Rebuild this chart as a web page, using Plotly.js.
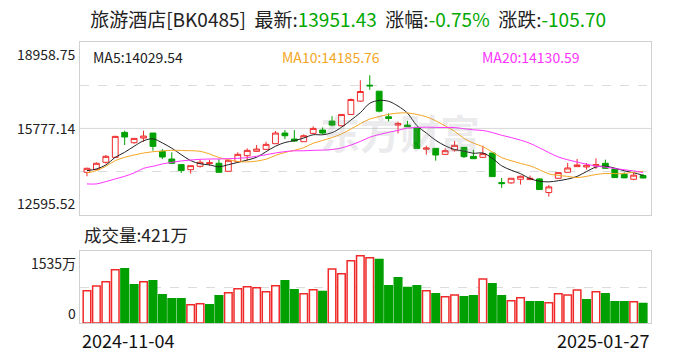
<!DOCTYPE html>
<html><head><meta charset="utf-8">
<script src="https://cdn.plot.ly/plotly-3.0.1.min.js"></script>
<style>html,body{margin:0;padding:0;background:#fff;}#chart{width:688px;height:360px;}</style>
</head><body><div id="chart"></div>
<script>
const dates = ["2024-11-04","2024-11-05","2024-11-06","2024-11-07","2024-11-08","2024-11-11","2024-11-12","2024-11-13","2024-11-14","2024-11-15",
"2024-11-18","2024-11-19","2024-11-20","2024-11-21","2024-11-22","2024-11-25","2024-11-26","2024-11-27","2024-11-28","2024-11-29",
"2024-12-02","2024-12-03","2024-12-04","2024-12-05","2024-12-06","2024-12-09","2024-12-10","2024-12-11","2024-12-12","2024-12-13",
"2024-12-16","2024-12-17","2024-12-18","2024-12-19","2024-12-20","2024-12-23","2024-12-24","2024-12-25","2024-12-26","2024-12-27",
"2024-12-30","2024-12-31","2025-01-02","2025-01-03","2025-01-06","2025-01-07","2025-01-08","2025-01-09","2025-01-10","2025-01-13",
"2025-01-14","2025-01-15","2025-01-16","2025-01-17","2025-01-20","2025-01-21","2025-01-22","2025-01-23","2025-01-24","2025-01-27"];
const openP = [14161,14259,14529,14712,15630,15251,15422,15606,14933,14651,
14443,14259,14382,14480,14492,14198,14553,14773,14933,15006,
15214,15606,15385,15287,15594,15716,16046,15875,16291,16781,
17368,17148,16205,15899,15899,15814,15010,15043,14822,14982,
15079,14749,14712,14871,13782,13770,13904,13892,13917,13415,
13941,14161,14369,14357,14394,14492,14284,14088,13904,14040];
const highP = [14333,14529,14798,15508,15691,15410,15691,15606,15018,14896,
14470,14406,14627,14627,14651,14627,14896,15043,15165,15287,
15679,15716,15716,15557,15851,15814,16230,16291,16879,17552,
17735,17148,16328,16022,16059,15814,15141,15043,15043,15312,
15079,14994,15141,14871,13953,13941,14039,14039,13941,13696,
14149,14504,14651,14504,14676,14626,14308,14161,14137,14100];
const lowP = [14014,14247,14480,14700,15165,15214,15287,14957,14651,14470,
14137,14112,14333,14406,14161,14198,14530,14590,14920,14980,
15214,15385,15287,15287,15570,15570,15851,15851,16280,16756,
17197,16364,16034,15593,15830,15040,14810,14590,14810,14920,
14688,14650,14700,14002,13586,13740,13709,13880,13525,13268,
13917,14161,14369,14259,14284,14308,13954,13955,13868,13930];
const closeP = [14308,14492,14749,15483,15460,15410,15496,15116,14724,14492,
14223,14406,14529,14510,14161,14602,14822,14969,15018,15190,
15606,15508,15312,15508,15777,15606,15899,16291,16842,17136,
17344,16413,16144,15961,15838,15040,15055,14798,14957,15153,
14737,14663,14847,14002,13745,13941,14014,13941,13525,13623,
14149,14320,14431,14418,14443,14308,13966,13955,14057.13,13951.43];
const volume = [693,792,885,1142,1164,821,885,907,607,521,
521,393,414,393,585,650,735,778,757,671,
800,907,714,628,714,678,1157,1057,1335,1442,
1399,1364,800,971,764,800,693,628,564,600,
564,585,942,843,585,478,543,457,457,436,
628,600,707,500,671,628,457,457,457,421];
// MA values before enough history exists in this window
const ma5Head = [14223,14284,14431,14712];
const ma10Head = [14137,14223,14382,14590,14712,14798,14871,14920,14945];
const ma20Head = [13733,13733,13819,13917,14014,14137,14308,14382,14468,14529,14578,14614,14639,14651,14651,14663,14676,14700,14749];
const maLabelValues = [14029.54, 14185.76, 14130.59];
const priceTicks = [18958.75, 15777.14, 12595.52];
const volTicks = [1535, 0];
const stockName = "旅游酒店[BK0485]";

const RED = "#f02a2a", GREEN = "#00a000";
function ma(n, head){
  return closeP.map((c,i)=>{
    if(i < n-1) return head[i];
    let s=0; for(let k=i-n+1;k<=i;k++) s+=closeP[k]; return s/n;
  });
}
const ma5 = ma(5, ma5Head), ma10 = ma(10, ma10Head), ma20 = ma(20, ma20Head);
const up = closeP.map((c,i)=> i===0 ? c>=openP[0] : c>=closeP[i-1]);
const last = closeP.length-1;
const chg = closeP[last]-closeP[last-1];
const pct = chg/closeP[last-1]*100;
const FONT = "Noto Sans CJK SC, Noto Sans, sans-serif";

const traces = [
  {type:"candlestick", x:dates, open:openP, high:highP, low:lowP, close:closeP, xaxis:"x", yaxis:"y",
   increasing:{line:{color:RED,width:1}, fillcolor:"#ffffff"},
   decreasing:{line:{color:GREEN,width:1}, fillcolor:GREEN}, whiskerwidth:0, showlegend:false, hoverinfo:"skip"},
  {type:"scatter", mode:"lines", x:dates, y:ma5, line:{color:"#222222", width:1, shape:"spline"}, xaxis:"x", yaxis:"y", hoverinfo:"skip"},
  {type:"scatter", mode:"lines", x:dates, y:ma10, line:{color:"#f5a623", width:1, shape:"spline"}, xaxis:"x", yaxis:"y", hoverinfo:"skip"},
  {type:"scatter", mode:"lines", x:dates, y:ma20, line:{color:"#ff33ff", width:1, shape:"spline"}, xaxis:"x", yaxis:"y", hoverinfo:"skip"},
  {type:"bar", x:dates, y:volume, width:0.8, xaxis:"x2", yaxis:"y2", hoverinfo:"skip",
   marker:{color:up.map(u=>u?"#ffffff":GREEN), line:{color:up.map(u=>u?RED:GREEN), width:1.5}}}
];

const pMin = priceTicks[2], pMax = priceTicks[0], pMid = priceTicks[1];
const q1 = pMin + (pMax-pMin)/4, q3 = pMin + 3*(pMax-pMin)/4;
const axisCommon = {showline:true, mirror:true, linecolor:"#d0d0d0", linewidth:1, zeroline:false, showticklabels:false, ticks:""};
const xr = [-0.74, dates.length-1+0.84];
const layout = {
  width:688, height:360, margin:{l:80, r:37, t:42, b:37},
  paper_bgcolor:"#fff", plot_bgcolor:"#fff", showlegend:false, boxgap:0.12,
  font:{family:FONT, size:14, color:"#222"},
  title:{text: stockName + "\u00a0 最新:<span style='color:#00a800'>"+closeP[last].toFixed(2)+"</span>\u00a0 涨幅:<span style='color:#00a800'>"+pct.toFixed(2)+"%</span>\u00a0 涨跌:<span style='color:#00a800'>"+chg.toFixed(2)+"</span>",
         font:{family:FONT, size:19, color:"#222"}, x:0.506, xanchor:"center", y:0.943, yanchor:"middle"},
  xaxis:{...axisCommon, type:"category", range:xr, domain:[0,1], anchor:"y", showgrid:false, rangeslider:{visible:false}},
  yaxis:{...axisCommon, range:[pMin,pMax], domain:[0.385,1], anchor:"x", tickvals:[q1,q3], showgrid:true, gridcolor:"#dcdcdc", griddash:"dash", gridwidth:1},
  xaxis2:{...axisCommon, type:"category", range:xr, domain:[0,1], anchor:"y2", matches:"x", showgrid:false},
  yaxis2:{...axisCommon, range:[0, volTicks[0]], domain:[0,0.2545], anchor:"x2", tickvals:[volTicks[0]/2], showgrid:true, gridcolor:"#dcdcdc", griddash:"dash", gridwidth:1},
  shapes:[{type:"line", xref:"paper", x0:0, x1:1, yref:"y", y0:pMid, y1:pMid, line:{color:"#d8d8d8", width:1}, layer:"below"}],
  annotations:[
    {text:"东方财富", xref:"paper", yref:"paper", x:0.56, y:0.79, showarrow:false, font:{family:FONT, size:40, color:"rgba(150,150,160,0.2)", weight:"bold"}},
    {text:priceTicks[0].toFixed(2), xref:"paper", yref:"y", x:0, y:priceTicks[0], xanchor:"right", yanchor:"top", xshift:-2, showarrow:false, font:{size:14,color:"#222"}},
    {text:priceTicks[1].toFixed(2), xref:"paper", yref:"y", x:0, y:priceTicks[1], xanchor:"right", yanchor:"middle", xshift:-2, showarrow:false, font:{size:14,color:"#222"}},
    {text:priceTicks[2].toFixed(2), xref:"paper", yref:"y", x:0, y:priceTicks[2], xanchor:"right", yanchor:"bottom", xshift:-2, showarrow:false, font:{size:14,color:"#222"}},
    {text:"MA5:"+maLabelValues[0].toFixed(2), xref:"paper", yref:"paper", x:0.019, y:1, xanchor:"left", yanchor:"middle", yshift:-15, showarrow:false, font:{size:14,color:"#222"}},
    {text:"MA10:"+maLabelValues[1].toFixed(2), xref:"paper", yref:"paper", x:0.35, y:1, xanchor:"left", yanchor:"middle", yshift:-15, showarrow:false, font:{size:14,color:"#f5a623"}},
    {text:"MA20:"+maLabelValues[2].toFixed(2), xref:"paper", yref:"paper", x:0.7, y:1, xanchor:"left", yanchor:"middle", yshift:-15, showarrow:false, font:{size:14,color:"#ff33ff"}},
    {text:"成交量:"+volume[last]+"万", xref:"paper", yref:"paper", x:0.003, y:0.2545, xanchor:"left", yanchor:"middle", yshift:17, showarrow:false, font:{size:17.5,color:"#222"}},
    {text:volTicks[0]+"万", xref:"paper", yref:"y2", x:0, y:volTicks[0], xanchor:"right", yanchor:"top", xshift:-2, showarrow:false, font:{size:14,color:"#222"}},
    {text:String(volTicks[1]), xref:"paper", yref:"y2", x:0, y:volTicks[1], xanchor:"right", yanchor:"bottom", xshift:-2, yshift:-2, showarrow:false, font:{size:14,color:"#222"}},
    {text:dates[0], xref:"paper", yref:"paper", x:0, y:0, xanchor:"left", yanchor:"middle", yshift:-17, showarrow:false, font:{size:18,color:"#111"}},
    {text:dates[last], xref:"paper", yref:"paper", x:1, y:0, xanchor:"right", yanchor:"middle", yshift:-17, showarrow:false, font:{size:18,color:"#111"}}
  ]
};
Plotly.newPlot("chart", traces, layout, {staticPlot:true, displayModeBar:false});
</script></body></html>
